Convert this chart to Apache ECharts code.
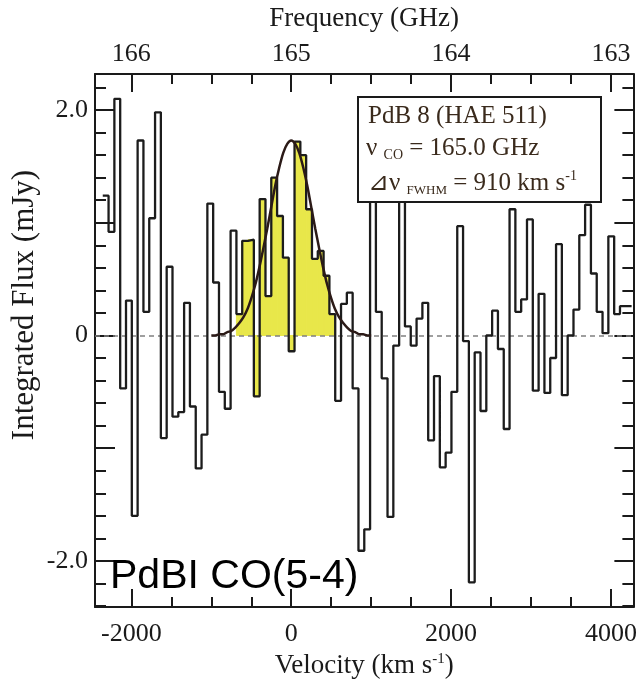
<!DOCTYPE html>
<html>
<head>
<meta charset="utf-8">
<script src="https://cdn.jsdelivr.net/npm/echarts@6/dist/echarts.min.js"></script>
<style>
  html, body { margin: 0; padding: 0; background: #fff; }
  #chart { width: 640px; height: 684px; }
</style>
</head>
<body>
<div id="chart"></div>
<script>
// spectrum channels (km/s): first channel's left edge and channel width
const CHAN_START = -2358;
const CHAN_WIDTH = 72.7;

// integrated flux per channel (mJy), read left to right
const FLUX = [
  1.24, 0.92, 2.10, -0.47, 0.31, -1.60, 1.73, 0.21, 1.04, 1.98,
  -0.91, 0.61, -0.72, -0.68, 0.29, -0.63, -1.18, -0.88, 1.17, 0.47,
  -0.50, -0.65, 0.93, 0.19, 0.84, 0.85, -0.54, 1.21, 0.35, 1.40,
  1.06, 0.69, -0.14, 1.72, 1.60, 1.12, 0.68, 0.75, 0.53, 0.19,
  -0.58, 0.28, 0.38, -0.47, -1.91, -1.72, 1.60, 0.21, -0.38, -1.61,
  -0.09, 1.45, 0.08, -0.09, 0.15, 0.29, -0.93, -0.36, -1.17, -1.04,
  -0.50, 0.97, -0.05, -2.19, -0.15, -0.67, 0.00, 0.22, -0.12, -0.83,
  1.12, 0.21, 0.32, 1.03, -0.49, 0.37, -0.51, -0.20, 0.81, -0.53,
  0.00, 0.23, 0.89, 1.16, 0.55, 0.21, 0.02, 0.88, 0.19, 0.26, 0.26
];

// channels shaded yellow (the CO line)
const LINE_FIRST = 23;
const LINE_LAST = 39;

// gaussian fit, sampled off the drawn curve
const FIT_VEL = [-1000, -950, -900, -850, -800, -750, -700, -650, -600, -550, -500,
                 -450, -400, -350, -300, -250, -200, -150, -100, -50, 0,
                 50, 100, 150, 200, 250, 300, 350, 400, 450, 500,
                 550, 600, 650, 700, 750, 800, 850, 900, 950, 1000];
const FIT_FLUX = [0.00, 0.00, 0.01, 0.01, 0.03, 0.04, 0.07, 0.11, 0.16, 0.23, 0.33,
                  0.45, 0.60, 0.77, 0.95, 1.14, 1.33, 1.49, 1.62, 1.70, 1.73,
                  1.70, 1.62, 1.49, 1.33, 1.14, 0.95, 0.77, 0.60, 0.45, 0.33,
                  0.23, 0.16, 0.11, 0.07, 0.04, 0.03, 0.01, 0.01, 0.00, 0.00];

// axes
const VEL_MIN = -2455, VEL_MAX = 4280;
const FLUX_MIN = -2.41, FLUX_MAX = 2.32;
const VEL_TICKS = [-2000, 0, 2000, 4000];
const FREQ_LABELS = ['166', '165', '164', '163'];
const FLUX_TICKS = [-2, -1, 0, 1, 2];
const FLUX_LABEL_VALUES = [-2, 0, 2];
const FLUX_LABELS = ['-2.0', '0', '2.0'];

const SERIF = "'Liberation Serif', 'Times New Roman', serif";
const INK = '#1a1a1a';
const YELLOW = '#e8e74a';

const velMinor = [];
for (let v = -2000; v <= 4000; v += 500) if (VEL_TICKS.indexOf(v) < 0) velMinor.push(v);
const fluxMinor = [];
for (let k = -12; k <= 11; k++) { if (k % 5 !== 0) fluxMinor.push(+(k * 0.2).toFixed(1)); }

function xAxisDef(pos, ticks, len, withLine, labels) {
  return {
    type: 'value', position: pos, min: VEL_MIN, max: VEL_MAX,
    axisLine: { show: withLine, onZero: false, lineStyle: { color: INK, width: 2 } },
    axisTick: { show: true, inside: true, length: len, customValues: ticks, lineStyle: { color: INK, width: 2 } },
    axisLabel: labels || { show: false },
    splitLine: { show: false }
  };
}
function yAxisDef(pos, ticks, len, withLine, labels) {
  return {
    type: 'value', position: pos, min: FLUX_MIN, max: FLUX_MAX,
    axisLine: { show: withLine, onZero: false, lineStyle: { color: INK, width: 2 } },
    axisTick: { show: true, inside: true, length: len, customValues: ticks, lineStyle: { color: INK, width: 2 } },
    axisLabel: labels || { show: false },
    splitLine: { show: false }
  };
}

const tickFont = { fontFamily: SERIF, fontSize: 26, color: INK };
const nameFont = { fontFamily: SERIF, fontSize: 27, color: INK };

const xBottom = xAxisDef('bottom', VEL_TICKS, 18, true, Object.assign({
  show: true, customValues: VEL_TICKS, margin: 14,
  formatter: v => String(v)
}, tickFont));
xBottom.name = 'Velocity (km s{sup|-1})';
xBottom.nameLocation = 'middle';
xBottom.nameGap = 42;
xBottom.nameTextStyle = Object.assign({ rich: { sup: { fontFamily: SERIF, fontSize: 15, verticalAlign: 'top', color: INK } } }, nameFont);

const xTop = xAxisDef('top', VEL_TICKS, 18, true, Object.assign({
  show: true, customValues: VEL_TICKS, margin: 7,
  formatter: v => FREQ_LABELS[VEL_TICKS.indexOf(v)]
}, tickFont));
xTop.name = 'Frequency (GHz)';
xTop.nameLocation = 'middle';
xTop.nameGap = 42;
xTop.nameTextStyle = nameFont;

const yLeft = yAxisDef('left', FLUX_TICKS, 20, true, Object.assign({
  show: true, customValues: FLUX_LABEL_VALUES, margin: 7,
  formatter: v => FLUX_LABELS[FLUX_LABEL_VALUES.indexOf(Math.round(v))]
}, tickFont));

const histData = FLUX.map((f, i) => [CHAN_START + i * CHAN_WIDTH, f]);
histData.push([CHAN_START + FLUX.length * CHAN_WIDTH, FLUX[FLUX.length - 1]]);

const lineBars = [];
for (let i = LINE_FIRST; i <= LINE_LAST; i++) {
  lineBars.push([CHAN_START + i * CHAN_WIDTH, CHAN_START + (i + 1) * CHAN_WIDTH, FLUX[i]]);
}

const chart = echarts.init(document.getElementById('chart'));
chart.setOption({
  animation: false,
  backgroundColor: '#fff',
  grid: { left: 95, right: 5, top: 73, bottom: 72, containLabel: false },
  xAxis: [
    xBottom,
    xAxisDef('bottom', velMinor, 10, false),
    xTop,
    xAxisDef('top', velMinor, 10, false)
  ],
  yAxis: [
    yLeft,
    yAxisDef('left', fluxMinor, 11, false),
    yAxisDef('right', FLUX_TICKS, 19, true),
    yAxisDef('right', fluxMinor, 11, false)
  ],
  series: [
    {
      type: 'custom', xAxisIndex: 0, yAxisIndex: 0, z: 1,
      encode: { x: [0, 1], y: 2 },
      data: lineBars,
      renderItem: (params, api) => {
        const a = api.coord([api.value(0), api.value(2)]);
        const b = api.coord([api.value(1), 0]);
        return {
          type: 'rect',
          shape: { x: a[0], y: Math.min(a[1], b[1]), width: b[0] - a[0], height: Math.abs(b[1] - a[1]) },
          style: { fill: YELLOW, stroke: YELLOW, lineWidth: 1 }
        };
      }
    },
    {
      type: 'line', xAxisIndex: 0, yAxisIndex: 0, z: 3,
      step: 'end', symbol: 'none',
      lineStyle: { color: '#1c1c1c', width: 2.3 },
      data: histData,
      markLine: {
        silent: true, symbol: 'none', z: 2,
        label: { show: false },
        lineStyle: { color: '#808080', type: [5, 4], width: 1.5 },
        data: [{ yAxis: 0 }]
      }
    },
    {
      type: 'line', xAxisIndex: 0, yAxisIndex: 0, z: 4,
      smooth: 0.3, symbol: 'none',
      lineStyle: { color: '#2b1a17', width: 2.5 },
      data: FIT_VEL.map((v, i) => [v, FIT_FLUX[i]])
    }
  ],
  graphic: [
    {
      type: 'text', z: 101, x: 25, y: 305, rotation: Math.PI / 2,
      style: { text: 'Integrated Flux (mJy)', font: '31px ' + SERIF, fill: INK, align: 'center', verticalAlign: 'middle' }
    },
    {
      type: 'rect', z: 100,
      shape: { x: 358, y: 97, width: 243, height: 105 },
      style: { fill: '#fff', stroke: INK, lineWidth: 2 }
    },
    {
      type: 'text', z: 101, left: 368, top: 104,
      style: { text: 'PdB 8 (HAE 511)', font: '25px ' + SERIF, fill: '#3a2a1c' }
    },
    {
      type: 'text', z: 101, left: 366, top: 136,
      style: {
        text: '{n|ν }{s|CO}{n| = 165.0 GHz}',
        fill: '#3a2a1c',
        rich: {
          n: { fontFamily: SERIF, fontSize: 25, fill: '#3a2a1c', lineHeight: 28 },
          s: { fontFamily: SERIF, fontSize: 14, fill: '#3a2a1c', verticalAlign: 'bottom', lineHeight: 28 }
        }
      }
    },
    {
      type: 'text', z: 101, left: 368, top: 169,
      style: {
        text: '{n|⊿ν }{s|FWHM}{n| = 910 km s}{sup|-1}',
        fill: '#3a2a1c',
        rich: {
          n: { fontFamily: SERIF, fontSize: 25, fill: '#3a2a1c', lineHeight: 28 },
          s: { fontFamily: SERIF, fontSize: 13, fill: '#3a2a1c', verticalAlign: 'bottom', lineHeight: 28 },
          sup: { fontFamily: SERIF, fontSize: 14, fill: '#3a2a1c', verticalAlign: 'top', lineHeight: 28 }
        }
      }
    },
    {
      type: 'text', z: 101, left: 110, top: 556,
      style: { text: 'PdBI CO(5-4)', font: '41px "Liberation Sans", Arial, sans-serif', fill: '#000' }
    }
  ]
});
</script>
</body>
</html>
